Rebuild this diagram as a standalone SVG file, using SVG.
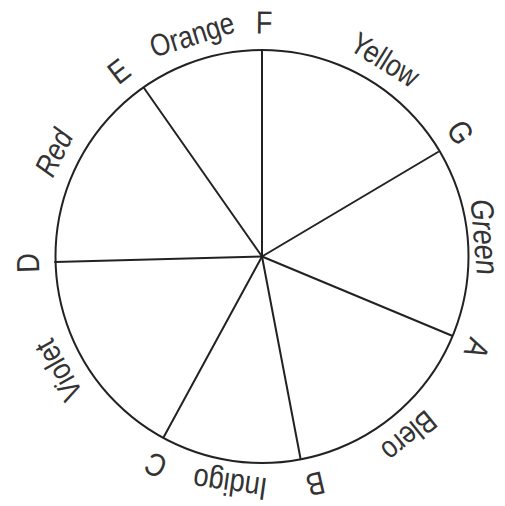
<svg xmlns="http://www.w3.org/2000/svg" width="505" height="506" viewBox="0 0 505 506">
<style>
.ln{stroke:#222;stroke-width:2;fill:none;stroke-linecap:round}
.lb{font-family:"Liberation Sans",Arial,sans-serif;font-size:32px;fill:#333;text-anchor:middle}
.cn{font-size:31px}
</style>
<rect width="505" height="506" fill="#fff"/>
<g id="wheel">
<circle class="ln" cx="262" cy="256.5" r="206.5"/>
</g>
<g id="connectors">
<line class="ln" x1="262" y1="256.5" x2="262" y2="50"/>
<line class="ln" x1="262" y1="256.5" x2="144" y2="88"/>
<line class="ln" x1="262" y1="256.5" x2="438" y2="152"/>
<line class="ln" x1="262" y1="256.5" x2="55" y2="262"/>
<line class="ln" x1="262" y1="256.5" x2="451.5" y2="335.5"/>
<line class="ln" x1="262" y1="256.5" x2="300.5" y2="458.5"/>
<line class="ln" x1="262" y1="256.5" x2="164" y2="436.5"/>
</g>
<g id="label-F" transform="rotate(0.5 262 256.5)"><text class="lb" transform="translate(262 33.5) scale(0.85 1)">F</text></g>
<g id="label-E" transform="rotate(-37.7 262 256.5)"><text class="lb" transform="translate(262 33.5) scale(0.85 1)">E</text></g>
<g id="label-Orange" transform="rotate(-17.5 262 256.5)"><text class="lb cn" transform="translate(262 34.5) scale(0.84 1)">Orange</text></g>
<g id="label-Yellow" transform="rotate(32 262 256.5)"><text class="lb cn" transform="translate(262 35) scale(0.84 1)">Yellow</text></g>
<g id="label-G" transform="rotate(58 262 256.5)"><text class="lb" transform="translate(262 33.5) scale(0.85 1)">G</text></g>
<g id="label-Green" transform="rotate(85 262 256.5)"><text class="lb" font-size="29" font-style="italic" transform="translate(262 44) scale(0.85 1)">Green</text></g>
<g id="label-A" transform="rotate(113.2 262 256.5)"><text class="lb" transform="translate(262 33.5) scale(0.85 1)">A</text></g>
<g id="label-Blero" transform="rotate(140.7 262 256.5)"><text class="lb cn" transform="translate(262 35) scale(0.84 1)">Blero</text></g>
<g id="label-B" transform="rotate(166.8 262 256.5)"><text class="lb" transform="translate(262 34) scale(0.85 1)">B</text></g>
<g id="label-Indigo" transform="rotate(188 262 256.5)"><text class="lb" font-size="29" transform="translate(262 37.5) scale(0.85 1)">Indigo</text></g>
<g id="label-C" transform="rotate(207 262 256.5)"><text class="lb" transform="translate(262 33.5) scale(0.85 1)">C</text></g>
<g id="label-Violet" transform="rotate(240.8 262 256.5)"><text class="lb cn" transform="translate(262 34) scale(0.84 1)">Violet</text></g>
<g id="label-D" transform="rotate(268.4 262 256.5)"><text class="lb" transform="translate(262 33.5) scale(0.85 1)">D</text></g>
<g id="label-Red" transform="rotate(-63.5 262 256.5)"><text class="lb cn" font-style="italic" transform="translate(262 34.5) scale(0.84 1)">Red</text></g>
</svg>
